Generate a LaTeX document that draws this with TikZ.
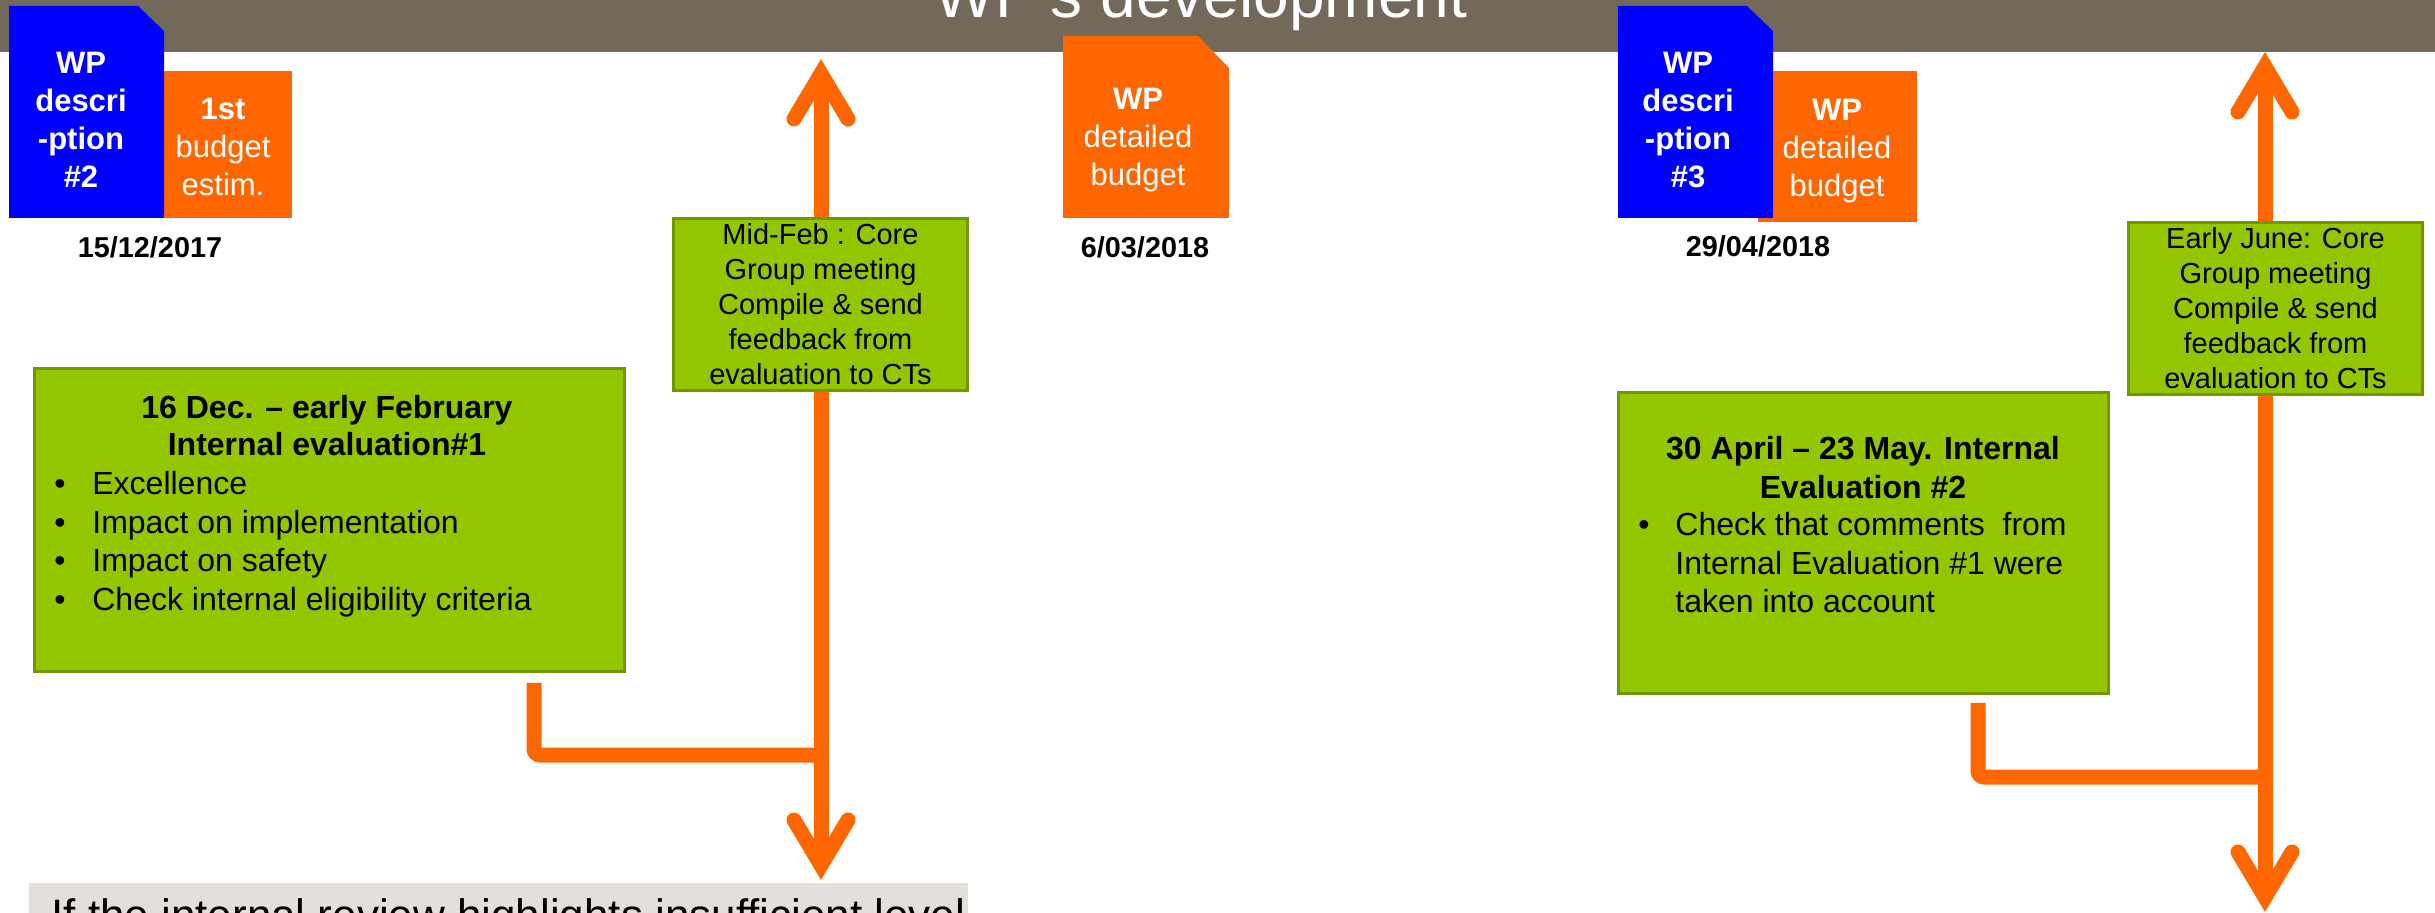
\documentclass[tikz,border=0pt]{standalone}
\usepackage{fontspec}
\setmainfont{Liberation Sans}
\usetikzlibrary{calc}
\definecolor{bandgray}{RGB}{114,105,91}
\definecolor{wpblue}{RGB}{0,0,255}
\definecolor{wporange}{RGB}{255,102,0}
\definecolor{evgreen}{RGB}{148,198,0}
\definecolor{evborder}{RGB}{112,150,0}
\definecolor{notegray}{RGB}{227,224,219}
\begin{document}
\begin{tikzpicture}[x=0.5pt,y=-0.5pt,
  boxtext/.style={text=white, align=center, inner sep=0pt, font=\fontsize{15.5}{19}\selectfont},
  boxbold/.style={text=white, align=center, inner sep=0pt, font=\fontsize{15.5}{19}\selectfont\bfseries},
  datetext/.style={font=\fontsize{14.4}{17}\selectfont\bfseries, anchor=base, inner sep=0pt},
  meetbox/.style={draw=evborder, line width=1.5pt, fill=evgreen, minimum width=147pt, minimum height=86pt, align=center, inner sep=0pt, font=\fontsize{14.5}{17.5}\selectfont},
  evalbox/.style={draw=evborder, line width=1.5pt, fill=evgreen, inner sep=0pt},
  evaltitle/.style={inner sep=0pt, align=center, font=\fontsize{16}{18.75}\selectfont\bfseries},
  evallist/.style={inner sep=0pt, align=left, anchor=west, font=\fontsize{16}{19.25}\selectfont},
  conn/.style={draw=wporange, line width=7.5pt},
  head/.style={draw=wporange, line width=7.5pt, line cap=round, line join=miter},
]
\clip (0,0) rectangle (2435,913);
\fill[bandgray] (0,0) rectangle (2435,52);
\node[text=white, anchor=base, inner sep=0pt, font=\fontsize{32}{38}\selectfont] (title) at (1201,18) {WP's development};

% ---- left group
\fill[wporange] (164,71) rectangle (292,218);
\fill[wpblue] (9,6) -- (138,6) -- (164,31) -- (164,218) -- (9,218) -- cycle;
\node[boxbold] (desc2) at (81,120) {WP\\descri\\-ption\\\#2};
\node[boxtext] (bud1) at (223,147) {\textbf{1st}\\budget\\estim.};
\node[datetext] (date1) at (150,258) {15/12/2017};

% ---- middle
\fill[wporange] (1063,36) -- (1198,36) -- (1229,68) -- (1229,218) -- (1063,218) -- cycle;
\node[boxtext] (bud2) at (1138,140) {\textbf{WP}\\detailed\\budget};
\node[datetext] (date2) at (1145,258) {6/03/2018};

% ---- right group
\fill[wporange] (1758,71) rectangle (1917,222);
\fill[wpblue] (1618,6) -- (1747,6) -- (1773,31) -- (1773,218) -- (1618,218) -- cycle;
\node[boxbold] (desc3) at (1688,120) {WP\\descri\\-ption\\\#3};
\node[boxtext] (bud3) at (1837,151) {\textbf{WP}\\detailed\\budget};
\node[datetext] (date3) at (1758,257) {29/04/2018};

% ---- arrows left
\coordinate (j1) at (821,755);
\coordinate (t1) at (821,59);
\coordinate (b1) at (821,880);
\coordinate (c1) at (534,683);
\draw[conn] (j1) -- ($(t1)+(0,14)$);
\draw[head] ($(t1)+(-27,60)$) -- ($(t1)+(0,14.7)$) -- ($(t1)+(27,60)$);
\draw[conn] (j1) -- ($(b1)+(0,-14)$);
\draw[head] ($(b1)+(-27,-60)$) -- ($(b1)+(0,-14.7)$) -- ($(b1)+(27,-60)$);
\draw[conn, rounded corners=3pt] (c1) |- (j1);

% ---- arrows right
\coordinate (j2) at (2265,777);
\coordinate (t2) at (2265,52);
\coordinate (b2) at (2265,912);
\coordinate (c2) at (1978,703);
\draw[conn] (j2) -- ($(t2)+(0,14)$);
\draw[head] ($(t2)+(-27,60)$) -- ($(t2)+(0,14.7)$) -- ($(t2)+(27,60)$);
\draw[conn] (j2) -- ($(b2)+(0,-14)$);
\draw[head] ($(b2)+(-27,-60)$) -- ($(b2)+(0,-14.7)$) -- ($(b2)+(27,-60)$);
\draw[conn, rounded corners=3pt] (c2) |- (j2);

% ---- meeting boxes
\node[meetbox] (meet1) at (820.5,304.5) {Mid-Feb : Core\\Group meeting\\Compile \& send\\feedback from\\evaluation to CTs};
\node[meetbox] (meet2) at (2275.5,308.5) {Early June: Core\\Group meeting\\Compile \& send\\feedback from\\evaluation to CTs};

% ---- evaluation boxes
\node[evalbox, minimum width=295pt, minimum height=151.5pt] (ev1) at (329.5,520) {};
\node[evaltitle] (ev1title) at (327,425.5) {16 Dec. – early February\\Internal evaluation\#1};
\node[evallist] (ev1list) at (54,544) {\makebox[19pt][l]{\textbullet}Excellence\\\makebox[19pt][l]{\textbullet}Impact on implementation\\\makebox[19pt][l]{\textbullet}Impact on safety\\\makebox[19pt][l]{\textbullet}Check internal eligibility criteria};

\node[evalbox, minimum width=245pt, minimum height=150.5pt] (ev2) at (1863.5,543) {};
\node[evaltitle, font=\fontsize{16}{19.5}\selectfont\bfseries] (ev2title) at (1863,467.5) {30 April – 23 May. Internal\\Evaluation \#2};
\node[evallist] (ev2list) at (1638,563) {\makebox[18.5pt][l]{\textbullet}Check that comments\ \ from\\\hspace*{18.5pt}Internal Evaluation \#1 were\\\hspace*{18.5pt}taken into account};

% ---- bottom note
\fill[notegray] (29,883) rectangle (968,920);
\node[anchor=base west, inner sep=0pt, font=\fontsize{22}{26}\selectfont] (note) at (51,930) {If the internal review highlights insufficient level};
\end{tikzpicture}
\end{document}
